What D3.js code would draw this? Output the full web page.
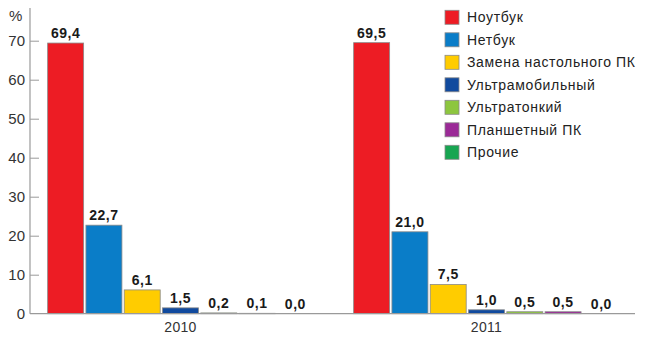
<!DOCTYPE html>
<html><head><meta charset="utf-8">
<script src="https://cdn.jsdelivr.net/npm/d3@7"></script>
<style>
body{margin:0;background:#fff;}
svg{display:block;font-family:"Liberation Sans",Arial,sans-serif;}
</style></head>
<body><svg id="c" width="650" height="339"></svg>
<script>
const years = ["2010", "2011"];
const categories = ["Ноутбук", "Нетбук", "Замена настольного ПК", "Ультрамобильный", "Ультратонкий", "Планшетный ПК", "Прочие"];
const values2010 = [69.4, 22.7, 6.1, 1.5, 0.2, 0.1, 0.0];
const values2011 = [69.5, 21.0, 7.5, 1.0, 0.5, 0.5, 0.0];
const colors = ["#ED1C24", "#0A7DC8", "#FFCC00", "#114A9E", "#8DC63F", "#9B2A97", "#17A551"];
const yTicks = [0, 10, 20, 30, 40, 50, 60, 70];

const data = years.map((y, i) => ({year: y, values: i === 0 ? values2010 : values2011}));

const svg = d3.select("#c");
const axisX0 = 30, axisX1 = 635;
const y = d3.scaleLinear().domain([0, 70]).range([313.7, 40.7]);
const x0 = d3.scaleBand().domain(years).range([27.5, 639.5]).padding(0);
const groupW = 268;
const x1 = d3.scaleBand().domain(categories).range([0, groupW]).paddingInner(0.06).paddingOuter(0.03);
const off = (x0.bandwidth() - groupW) / 2;
const fmt = v => d3.format(".1f")(v).replace(".", ",");

// y axis
const yAxis = d3.axisRight(y).tickValues(yTicks).tickSize(9).tickFormat("");
const ga = svg.append("g").attr("transform", `translate(${axisX0},0)`).call(yAxis);
ga.select(".domain").remove();
ga.selectAll(".tick line").attr("stroke", "#9a9a9a").attr("stroke-width", 1);
ga.selectAll(".tick").filter(d => d === 0).remove();
svg.append("line").attr("x1", axisX0).attr("x2", axisX0).attr("y1", 8).attr("y2", y(0))
  .attr("stroke", "#9a9a9a").attr("stroke-width", 1.2);
svg.append("g").selectAll("text").data(yTicks).join("text")
  .attr("x", 25).attr("y", d => y(d)).attr("dy", "0.36em")
  .attr("text-anchor", "end").attr("font-size", 15).attr("fill", "#333")
  .text(d => d);
svg.append("text").attr("x", 9).attr("y", 21).attr("font-size", 15).attr("fill", "#333").text("%");

// bars
const groups = svg.append("g").selectAll("g").data(data).join("g")
  .attr("transform", d => `translate(${x0(d.year) + off},0)`);
groups.selectAll("rect").data(d => d.values.map((v, i) => ({v, c: categories[i], i})))
  .join("rect")
  .attr("x", d => x1(d.c)).attr("width", x1.bandwidth())
  .attr("y", d => y(d.v)).attr("height", d => Math.max(0, y(0) - y(d.v)))
  .attr("fill", d => colors[d.i]).attr("stroke", "#8a8a8a").attr("stroke-width", 0.8);
groups.selectAll("text").data(d => d.values.map((v, i) => ({v, c: categories[i]})))
  .join("text")
  .attr("x", d => x1(d.c) + x1.bandwidth() / 2).attr("y", d => y(d.v) - 5)
  .attr("text-anchor", "middle").attr("font-size", 14).attr("font-weight", "bold")
  .attr("letter-spacing", "0.5px").attr("fill", "#1a1a1a")
  .text(d => fmt(d.v));

// x axis
svg.append("line").attr("x1", axisX0).attr("x2", axisX1).attr("y1", y(0)).attr("y2", y(0))
  .attr("stroke", "#9a9a9a").attr("stroke-width", 1.2);
svg.append("g").selectAll("text").data(years).join("text")
  .attr("x", d => x0(d) + x0.bandwidth() / 2).attr("y", 332)
  .attr("text-anchor", "middle").attr("font-size", 14).attr("letter-spacing", "0.3px")
  .attr("fill", "#333").text(d => d);

// legend
const lg = svg.append("g").selectAll("g").data(categories).join("g")
  .attr("transform", (d, i) => `translate(445,${17.3 + i * 22.5})`);
lg.append("rect").attr("x", 0).attr("y", -7).attr("width", 14).attr("height", 14)
  .attr("fill", (d, i) => colors[i]).attr("stroke", "#8a8a8a").attr("stroke-width", 0.8);
lg.append("text").attr("x", 22).attr("y", 0).attr("dy", "0.36em")
  .attr("font-size", 14).attr("letter-spacing", "0.65px").attr("fill", "#222").text(d => d);
</script></body></html>
